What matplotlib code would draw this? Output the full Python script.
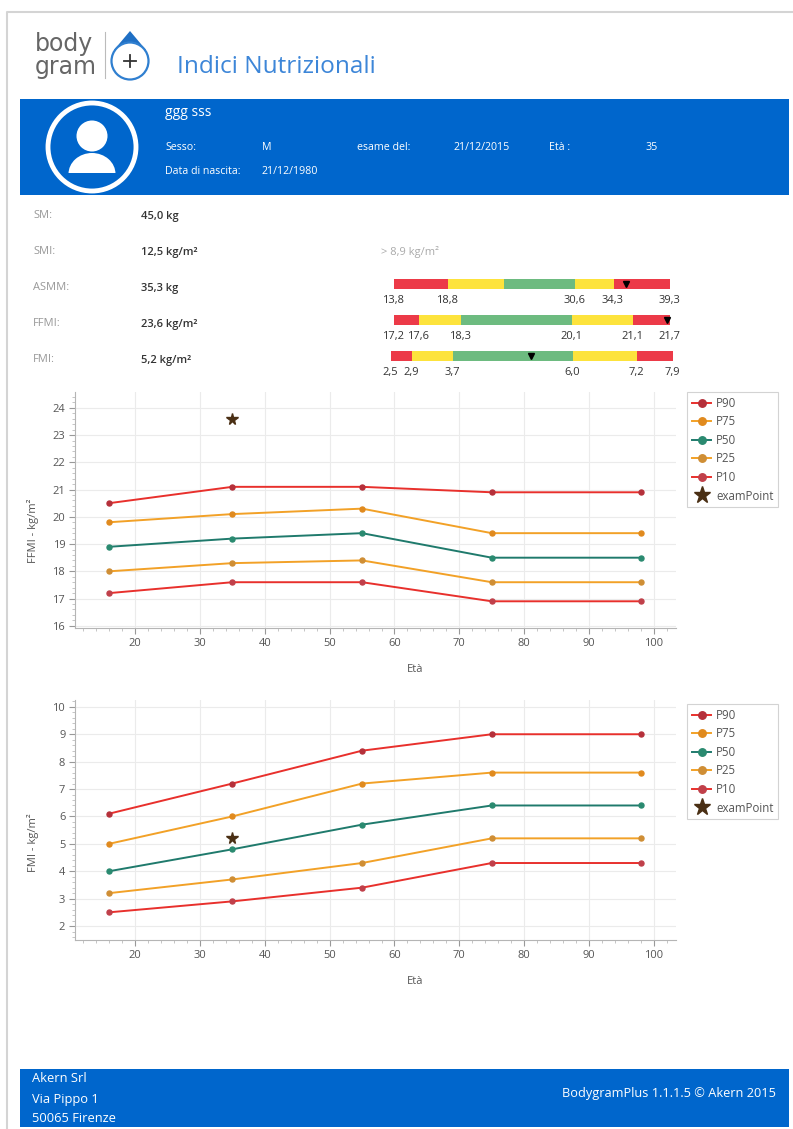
import matplotlib
matplotlib.use('Agg')
import matplotlib.pyplot as plt
from matplotlib.patches import Circle, Rectangle, Polygon, Ellipse
from matplotlib.ticker import MultipleLocator, AutoMinorLocator

plt.rcParams['font.family'] = ['Open Sans', 'DejaVu Sans']

W, H = 793, 1129
BLUE = '#0066cc'

# dati dei grafici
eta = [16, 35, 55, 75, 98]
series_names = ['P90', 'P75', 'P50', 'P25', 'P10']
ffmi_values = [
    [20.5, 21.1, 21.1, 20.9, 20.9],
    [19.8, 20.1, 20.3, 19.4, 19.4],
    [18.9, 19.2, 19.4, 18.5, 18.5],
    [18.0, 18.3, 18.4, 17.6, 17.6],
    [17.2, 17.6, 17.6, 16.9, 16.9],
]
fmi_values = [
    [6.1, 7.2, 8.4, 9.0, 9.0],
    [5.0, 6.0, 7.2, 7.6, 7.6],
    [4.0, 4.8, 5.7, 6.4, 6.4],
    [3.2, 3.7, 4.3, 5.2, 5.2],
    [2.5, 2.9, 3.4, 4.3, 4.3],
]
exam_eta = 35
exam_ffmi = 23.6
exam_fmi = 5.2
line_colors = ['#e8302c', '#f2a127', '#1f7a6c', '#f2a127', '#e8302c']
marker_colors = ['#b5303a', '#e08a1e', '#2a8a70', '#cf8e35', '#c0404a']

# barre colorate: larghezza dei tratti in % della barra
asmm_widths = [19.6, 20.3, 25.7, 14.1, 20.3]
asmm_labels = ['13,8', '18,8', '', '30,6', '34,3', '39,3']
asmm_mark = 84.1
ffmi_widths = [9.1, 15.2, 40.2, 22.1, 13.4]
ffmi_labels = ['17,2', '17,6', '18,3', '20,1', '21,1', '21,7']
ffmi_mark = 99.0
fmi_widths = [7.4, 14.6, 42.6, 22.7, 12.7]
fmi_labels = ['2,5', '2,9', '3,7', '6,0', '7,2', '7,9']
fmi_mark = 49.6
band_colors = ['#ec3a48', '#fde33c', '#6dbb80', '#fde33c', '#ec3a48']

# righe di testo
row_names = ['SM:', 'SMI:', 'ASMM:', 'FFMI:', 'FMI:']
row_values = ['45,0 kg', '12,5 kg/m²', '35,3 kg', '23,6 kg/m²', '5,2 kg/m²']

fig = plt.figure(figsize=(W / 100, H / 100), dpi=100, facecolor='white')


def px_axes(x0, y0, x1, y1):
    # assi posizionati in pixel (origine in alto)
    return fig.add_axes([x0 / W, 1 - y1 / H, (x1 - x0) / W, (y1 - y0) / H])


# pagina
page = fig.add_axes([0, 0, 1, 1])
page.set_xlim(0, W)
page.set_ylim(H, 0)
page.axis('off')
page.plot([793, 7, 7], [12, 12, 1129], color='#d4d4d4', lw=1.5)
page.add_patch(Rectangle((20, 99), 769, 96, color=BLUE, lw=0))
page.add_patch(Rectangle((20, 1069), 769, 58, color=BLUE, lw=0))

# logo
page.text(35, 51, 'body', fontsize=17, color='#666666', va='baseline', family=['DejaVu Sans'])
page.text(35, 74, 'gram', fontsize=17, color='#666666', va='baseline', family=['DejaVu Sans'])
page.plot([105, 105], [32, 78], color='#bbbbbb', lw=0.8)
page.add_patch(Polygon([[130, 31], [114, 50], [146, 50]], color='#1f6fc4', lw=0))
page.add_patch(Circle((130, 61), 18.5, fc='white', ec='#2f7fd0', lw=1.6))
page.plot([124, 136], [61, 61], color='#333333', lw=1.3)
page.plot([130, 130], [55, 67], color='#333333', lw=1.3)
page.text(177, 67, 'Indici Nutrizionali', fontsize=17.6, color='#3d86d8', va='center')

# intestazione paziente
page.add_patch(Circle((92, 147), 44, fc='none', ec='white', lw=3.5))
page.add_patch(Circle((92, 136), 15.5, color='white', lw=0))
body = Ellipse((92, 174), 47, 42, color='white', lw=0)
page.add_patch(body)
body.set_clip_path(Rectangle((60, 140), 64, 33, transform=page.transData))
page.text(165, 113, 'ggg sss', fontsize=10, color='white', va='center')
for x, y, s in [(165, 147, 'Sesso:'), (262, 147, 'M'), (357, 147, 'esame del:'), (453, 147, '21/12/2015'),
                (549, 147, 'Età :'), (645, 147, '35'), (165, 171, 'Data di nascita:'), (262, 171, '21/12/1980')]:
    page.text(x, y, s, fontsize=7.7, color='white', va='center')

# righe indici
for i in range(5):
    y = 216 + i * 36
    page.text(33, y, row_names[i], fontsize=8, color='#999999', va='center')
    page.text(141, y, row_values[i], fontsize=8, color='#333333', va='center', weight='semibold')
page.text(381, 252, '> 8,9 kg/m²', fontsize=8, color='#aaaaaa', va='center')


def range_bar(x0, x1, y0, widths, labels, mark, label_y):
    ax = px_axes(x0, y0, x1, y0 + 10)
    ax.set_xlim(0, sum(widths))
    ax.set_ylim(0, 1)
    ax.axis('off')
    left = 0
    edges = [0]
    for w, c in zip(widths, band_colors):
        ax.barh(0.5, w, left=left, height=1, color=c, lw=0)
        left += w
        edges.append(left)
    ax.plot([mark], [0.55], marker='v', color='black', ms=4.5, clip_on=False)
    # etichette sotto la barra
    for e, s in zip(edges, labels):
        page.text(x0 + (x1 - x0) * e / left - 1, label_y, s, fontsize=8, color='#333333', ha='center', va='center')


range_bar(394, 670, 279, asmm_widths, asmm_labels, asmm_mark, 301)
range_bar(394, 670, 315, ffmi_widths, ffmi_labels, ffmi_mark, 337)
range_bar(391, 673, 351, fmi_widths, fmi_labels, fmi_mark, 373)


def percentile_chart(box, ylim, values, exam_value, ylabel, legend_top, label_y):
    ax = px_axes(*box)
    for name, vals, lc, mc in zip(series_names, values, line_colors, marker_colors):
        ax.plot(eta, vals, color=lc, lw=1.4, marker='o', ms=3.6, mfc=mc, mec=mc, label=name, zorder=3)
    ax.plot([exam_eta], [exam_value], ls='none', marker='*', ms=8.5, color='#4a2f14', label='examPoint', zorder=4)
    ax.set_xlim(10.75, 103.4)
    ax.set_ylim(*ylim)
    ax.xaxis.set_major_locator(MultipleLocator(10))
    ax.xaxis.set_minor_locator(AutoMinorLocator(5))
    ax.yaxis.set_major_locator(MultipleLocator(1))
    ax.yaxis.set_minor_locator(AutoMinorLocator(5))
    ax.grid(True, which='major', color='#ebebeb', lw=0.8)
    ax.set_axisbelow(True)
    ax.spines['top'].set_visible(False)
    ax.spines['right'].set_visible(False)
    ax.spines['left'].set_color('#b5b5b5')
    ax.spines['bottom'].set_color('#b5b5b5')
    ax.tick_params(which='major', length=4, color='#999999', labelsize=8, labelcolor='#555555', pad=3)
    ax.tick_params(which='minor', length=2, color='#bbbbbb')
    ax.set_xlabel('Età', fontsize=8, color='#555555')
    ax.set_ylabel(ylabel, fontsize=8, color='#555555')
    bw = box[2] - box[0]
    bh = box[3] - box[1]
    ax.xaxis.set_label_coords((415 - box[0]) / bw, -36 / bh)
    ax.yaxis.set_label_coords((39 - box[0]) / bw, (box[3] - label_y) / bh)
    # legenda a destra, ancorata in pixel
    leg = ax.legend(loc='upper left', bbox_to_anchor=(687 / W, 1 - legend_top / H),
                    bbox_transform=fig.transFigure, fontsize=8.3, frameon=True, fancybox=False,
                    borderaxespad=0, borderpad=0.42, labelspacing=0.48, handlelength=1.7,
                    handletextpad=0.4, labelcolor='#555555', markerscale=1.5)
    leg.get_frame().set_edgecolor('#c8c8c8')
    leg.get_frame().set_linewidth(0.8)
    return ax


percentile_chart((75, 392, 676, 628), (15.92, 24.58), ffmi_values, exam_ffmi, 'FFMI - kg/m²', 392, 531)
percentile_chart((75, 700, 676, 940), (1.49, 10.25), fmi_values, exam_fmi, 'FMI - kg/m²', 704, 843)

# piè di pagina
page.text(32, 1079, 'Akern Srl', fontsize=9.3, color='white', va='center')
page.text(32, 1099, 'Via Pippo 1', fontsize=9.3, color='white', va='center')
page.text(32, 1119, '50065 Firenze', fontsize=9.3, color='white', va='center')
page.text(776, 1094, 'BodygramPlus 1.1.1.5 © Akern 2015', fontsize=9.2, color='white', va='center', ha='right')

fig.savefig('out.png', dpi=100)
